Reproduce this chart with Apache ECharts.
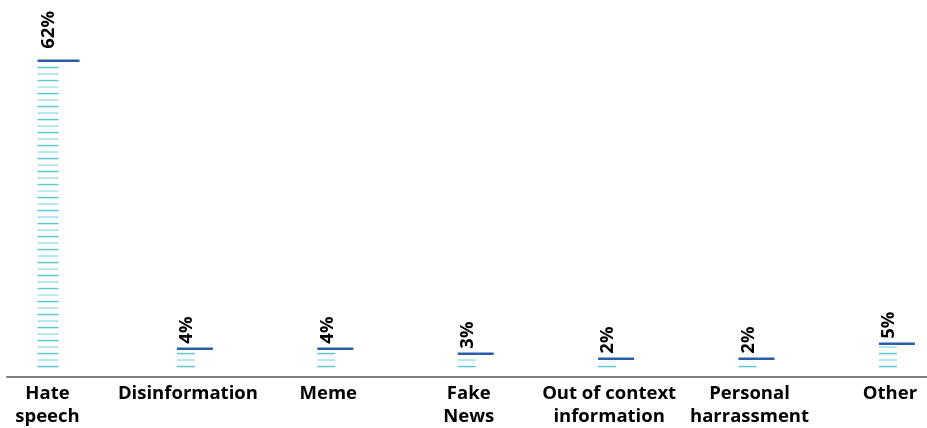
<!DOCTYPE html>
<html>
<head>
<meta charset="utf-8">
<script src="https://cdn.jsdelivr.net/npm/echarts@6/dist/echarts.min.js"></script>
<style>
  html, body { margin: 0; padding: 0; background: #ffffff; }
  #chart { width: 927px; height: 428px; }
</style>
</head>
<body>
<div id="chart"></div>
<script>
// Share of reported content by type (percent)
const categories = [
  'Hate\nspeech',
  'Disinformation',
  'Meme',
  'Fake\nNews',
  'Out of context\ninformation',
  'Personal\nharrassment',
  'Other'
];
const shares = [62, 4, 4, 3, 2, 2, 5];
const categoryIndex = categories.map((_, i) => i);

const FONT = '"Open Sans", "DejaVu Sans", sans-serif';
const STRIPE_DARK = '#5ec8d0';
const STRIPE_LIGHT = '#a3dfe2';
const CAP_BLUE = '#2a5ca8';

// Each column: thin horizontal stripes up to the value, a darker cap line on top,
// and the rotated percentage above the cap.
function renderColumn(params, api) {
  const idx = api.value(0);
  const val = api.value(1);
  const top = api.coord([idx, val]);
  const base = api.coord([idx, 0]);
  const wide = idx === 0;
  const left = top[0] - (wide ? 10 : 11);
  const stripeW = wide ? 21 : 18;
  const capW = wide ? 42 : 36;
  const children = [];
  let k = 0;
  for (let y = base[1] - 2; y > top[1] + 3; y -= 6.5, k++) {
    children.push({
      type: 'line',
      shape: { x1: left, y1: y, x2: left + stripeW, y2: y },
      style: { stroke: k % 2 ? STRIPE_LIGHT : STRIPE_DARK, lineWidth: 1.5 }
    });
  }
  children.push({
    type: 'line',
    shape: { x1: left, y1: top[1], x2: left + capW, y2: top[1] },
    style: { stroke: CAP_BLUE, lineWidth: 2.5 }
  });
  children.push({
    type: 'text',
    x: left + stripeW / 2 + 1,
    y: top[1] - (wide ? 12 : 5),
    rotation: Math.PI / 2,
    style: {
      text: val + '%',
      fill: '#000000',
      font: 'bold 18.5px ' + FONT,
      align: 'left',
      verticalAlign: 'middle'
    }
  });
  return { type: 'group', children: children };
}

const chart = echarts.init(document.getElementById('chart'), null, { renderer: 'canvas' });
chart.setOption({
  animation: false,
  backgroundColor: '#ffffff',
  grid: { left: 7, right: 0, top: 21, bottom: 48.5, containLabel: false },
  xAxis: {
    type: 'value',
    min: -0.2885,
    max: 6.264,
    splitLine: { show: false },
    axisLine: { show: true, onZero: false, lineStyle: { color: '#808080', width: 2 } },
    axisTick: { show: false },
    axisLabel: {
      customValues: categoryIndex,
      formatter: (v) => categories[Math.round(v)],
      margin: 5,
      color: '#000000',
      fontFamily: FONT,
      fontWeight: 'bold',
      fontSize: 18.5,
      lineHeight: 23
    }
  },
  yAxis: {
    type: 'value',
    min: -1.7,
    max: 70,
    show: false,
    splitLine: { show: false }
  },
  series: [{
    type: 'custom',
    renderItem: renderColumn,
    encode: { x: 0, y: 1 },
    data: shares.map((v, i) => [i, v])
  }]
});
</script>
</body>
</html>
